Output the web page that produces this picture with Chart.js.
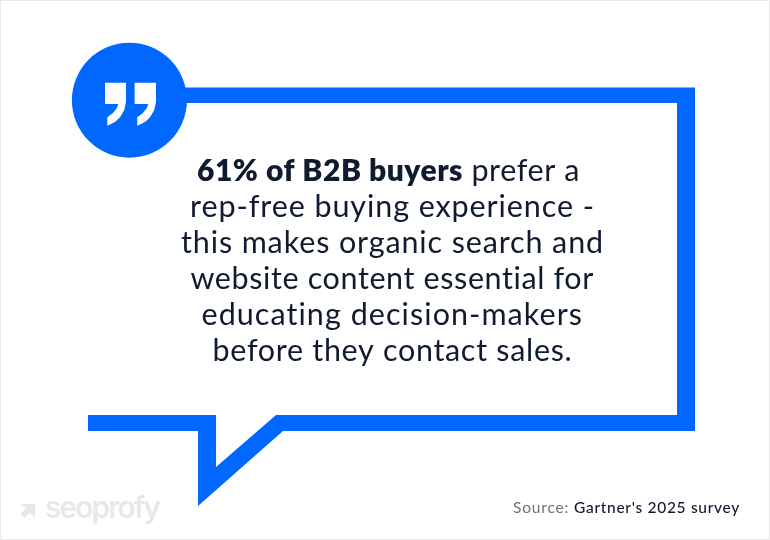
<!DOCTYPE html>
<html><head><meta charset="utf-8">
<style>html,body{margin:0;padding:0;background:#fff}
#w{position:relative;width:770px;height:540px;overflow:hidden}
#f{position:absolute;inset:0;box-sizing:border-box;border:1px solid #e9e9e9;pointer-events:none}
canvas{display:block}</style>
<script src="https://cdn.jsdelivr.net/npm/chart.js@4/dist/chart.umd.js"></script>
</head><body><div id="w"><canvas id="c" width="770" height="540"></canvas><div id="f"></div></div>
<script>
const bubbleX=[150,695,695,283,198,198,88,88,216,216,276,677,677,150,150];
const bubbleY=[87.5,87.5,431,431,506,431,431,415,415,467,415,415,103,103,87.5];
const badgeX=[129.4];
const badgeY=[100.2];
const quoteLeftX=[105,126,126,124.3,120,115,107.3,107.3,112.7,116.7,118.3,105,105];
const quoteRightX=[134.6,156,156,154.3,150,145,137.2,137.2,142.7,146.7,148.3,134.6,134.6];
const quoteY=[82.7,82.7,101.7,110,117.3,122,125.7,117.3,113.3,108.3,104,104,82.7];
const arrowX=[20,35,35,29.5,24.5,20.5,26,20];
const arrowY=[504,504,518,512.5,518,514,508.5,504];
const boldLead="61% of B2B buyers";
const bodyLines=[" prefer a","rep-free buying experience -","this makes organic search and","website content essential for","educating decision-makers","before they contact sales."];
const sourceLabel="Source: ";
const sourceName="Gartner's 2025 survey";
const brand="seoprofy";

const pts=(xs,ys)=>xs.map((x,i)=>({x,y:ys[i]}));
const shape=(xs,ys,color)=>({type:'line',data:pts(xs,ys),fill:'shape',backgroundColor:color,borderColor:color,borderWidth:0,pointRadius:0,tension:0});
const BLUE='#0068ff',INK='#111b30',FONT='Lato';
const lineWidthsPx=[117,405,423,404,382,360];

function fitText(ctx,text,font,width,left,base){
  ctx.font=font;ctx.letterSpacing='0px';
  const w0=ctx.measureText(text).width;
  ctx.letterSpacing=((width-w0)/text.length).toFixed(3)+'px';
  ctx.fillText(text,left,base);
  ctx.letterSpacing='0px';
}
const textPlugin={id:'copy',afterDraw(chart){
  const ctx=chart.ctx,x=chart.scales.x,y=chart.scales.y;
  ctx.save();ctx.textBaseline='alphabetic';ctx.textAlign='left';ctx.fillStyle=INK;
  const cx=x.getPixelForValue(392.5);
  const reg=`400 30.5px ${FONT}`,bold=`800 30px ${FONT}`;
  bodyLines.forEach((t,i)=>{
    const by=y.getPixelForValue(180.5+36*i),W=lineWidthsPx[i];
    if(i===0){
      fitText(ctx,boldLead,bold,266,x.getPixelForValue(197),by);
      fitText(ctx,t,reg,W,x.getPixelForValue(463),by);
    }else fitText(ctx,t,reg,W,cx-W/2,by);
  });
  const sy=y.getPixelForValue(513);
  ctx.fillStyle='#6b7280';
  fitText(ctx,sourceLabel,`400 15.5px ${FONT}`,61,x.getPixelForValue(513),sy);
  ctx.fillStyle=INK;
  fitText(ctx,sourceName,`500 15.5px ${FONT}`,166,x.getPixelForValue(574),sy);
  ctx.fillStyle='#e8e8e8';
  fitText(ctx,brand,`600 30px Inter`,114,x.getPixelForValue(45),y.getPixelForValue(518));
  ctx.restore();
}};

new Chart(document.getElementById('c'),{
  type:'scatter',
  data:{datasets:[
    shape(quoteLeftX,quoteY,'#ffffff'),
    shape(quoteRightX,quoteY,'#ffffff'),
    {data:pts(badgeX,badgeY),backgroundColor:BLUE,borderWidth:0,pointRadius:57.5,pointStyle:'circle'},
    shape(bubbleX,bubbleY,BLUE),
    shape(arrowX,arrowY,'#e8e8e8')
  ]},
  options:{responsive:false,animation:false,devicePixelRatio:1,layout:{padding:0,autoPadding:false},
    plugins:{legend:{display:false},tooltip:{enabled:false},title:{display:false}},
    scales:{x:{type:'linear',min:0,max:770,display:false},y:{type:'linear',min:0,max:540,reverse:true,display:false}},
    clip:false},
  plugins:[textPlugin]
});
</script></body></html>
